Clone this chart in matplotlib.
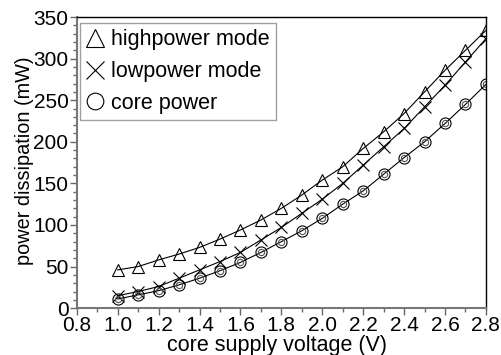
import matplotlib
matplotlib.use('Agg')
from matplotlib import pyplot as plt
from matplotlib.ticker import MultipleLocator

plt.rcParams['font.family'] = ['Liberation Sans', 'DejaVu Sans']

voltage = [1.0, 1.1, 1.2, 1.3, 1.4, 1.5, 1.6, 1.7, 1.8, 1.9,
           2.0, 2.1, 2.2, 2.3, 2.4, 2.5, 2.6, 2.7, 2.8]
highpower = [46, 50, 58, 65, 73, 83, 94, 106, 120, 136,
             154, 170, 192, 212, 234, 260, 286, 310, 334]
lowpower = [15, 20, 26, 36, 46, 56, 67, 82, 97, 114,
            131, 150, 172, 194, 216, 242, 268, 296, 324]
core = [11, 16, 21, 28, 36, 45, 55, 67, 80, 93,
        108, 125, 141, 161, 181, 200, 222, 245, 269]
labels = ['highpower mode', 'lowpower mode', 'core power']

fig = plt.figure(figsize=(5.02, 3.55), dpi=100)
ax = fig.add_axes([0.153, 0.132, 0.815, 0.820])

ax.plot(voltage, highpower, color='black', lw=0.8, marker='^', ms=9,
        mfc='none', mec='black', mew=0.8)
ax.plot(voltage, lowpower, color='black', lw=0.8, marker='x', ms=9,
        mec='black', mew=0.8)
ax.plot(voltage, core, color='black', lw=0.8, marker='o', ms=8,
        mfc='none', mec='black', mew=0.8)
ax.plot(voltage, core, ls='none', marker='o', ms=4.5,
        mfc='none', mec='#555555', mew=0.8)

# legend entries: markers only
h1, = ax.plot([], [], ls='none', marker='^', ms=13, mfc='none', mec='black', mew=0.8)
h2, = ax.plot([], [], ls='none', marker='x', ms=13, mec='black', mew=0.8)
h3, = ax.plot([], [], ls='none', marker='o', ms=12, mfc='none', mec='black', mew=0.8)
leg = ax.legend([h1, h2, h3], labels,
                loc='upper left', bbox_to_anchor=(0.007, 0.98), fontsize=15.5,
                frameon=True, fancybox=False, handlelength=0.85,
                handletextpad=0.3, borderpad=0.3, labelspacing=0.5,
                borderaxespad=0.0)
leg.get_frame().set_edgecolor('#888888')
leg.get_frame().set_linewidth(1.0)

ax.set_xlim(0.8, 2.8)
ax.set_ylim(0, 350)
ax.xaxis.set_major_locator(MultipleLocator(0.2))
ax.xaxis.set_minor_locator(MultipleLocator(0.1))
ax.yaxis.set_major_locator(MultipleLocator(50))
ax.yaxis.set_minor_locator(MultipleLocator(10))
ax.set_xticks([0.8, 1.0, 1.2, 1.4, 1.6, 1.8, 2.0, 2.2, 2.4, 2.6, 2.8])
ax.set_xticklabels(['0.8', '1.0', '1.2', '1.4', '1.6', '1.8', '2.0', '2.2', '2.4', '2.6', '2.8'])

ax.tick_params(which='major', direction='out', length=5, width=1, colors='#666666',
               labelsize=15, labelcolor='black', pad=1)
ax.tick_params(which='minor', direction='out', length=3, width=1, colors='#666666')

for s in ['left', 'bottom']:
    ax.spines[s].set_color('#777777')
    ax.spines[s].set_linewidth(1.5)
for s in ['top', 'right']:
    ax.spines[s].set_color('black')
    ax.spines[s].set_linewidth(1.0)

ax.set_xlabel('core supply voltage (V)', fontsize=15.5)
ax.set_ylabel('power dissipation (mW)', fontsize=14.3)
ax.xaxis.set_label_coords(0.49, -0.092)
ax.yaxis.set_label_coords(-0.105, 0.505)

fig.savefig('out.png', dpi=100)
